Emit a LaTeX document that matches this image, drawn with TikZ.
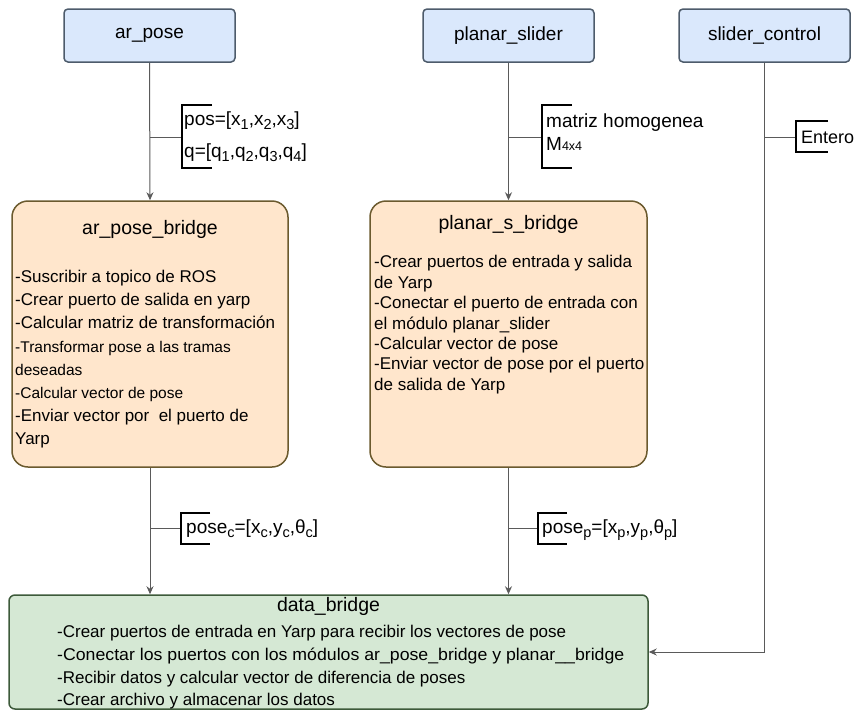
\documentclass[tikz,border=0pt]{standalone}
\usepackage{fontspec}
\setmainfont{Liberation Sans}
\usetikzlibrary{arrows.meta}

\definecolor{modFill}{HTML}{DAE8FC}
\definecolor{modLine}{HTML}{4D5B6B}
\definecolor{brFill}{HTML}{FFE6CC}
\definecolor{brLine}{HTML}{6B5A2E}
\definecolor{dbFill}{HTML}{D5E8D4}
\definecolor{dbLine}{HTML}{3D5A3A}
\definecolor{wire}{HTML}{5A5A5A}

% lowered index in the message labels
\newcommand\lowidx[1]{\raisebox{-0.25em}{\fontsize{14.5}{14.5}\selectfont #1}}

\tikzset{
  topbox/.style={draw=modLine, fill=modFill, line width=1.5pt, rounded corners=4pt,
    minimum width=171pt, minimum height=53pt, inner sep=0pt,
    font=\fontsize{19}{22}\selectfont},
  bridgebox/.style={draw=brLine, fill=brFill, line width=1.5pt, rounded corners=16pt,
    minimum height=266pt, inner sep=0pt},
  databox/.style={draw=dbLine, fill=dbFill, line width=1.5pt, rounded corners=6pt,
    minimum width=639pt, minimum height=114pt, inner sep=0pt},
  title/.style={inner sep=0pt, anchor=base, font=\fontsize{19.5}{22}\selectfont},
  body/.style={inner sep=0pt, anchor=base west, font=\fontsize{17}{20}\selectfont},
  bodysm/.style={inner sep=0pt, anchor=base west, font=\fontsize{15.5}{18}\selectfont},
  msg/.style={inner sep=0pt, anchor=base west, font=\fontsize{19}{22}\selectfont},
  flow/.style={draw=wire, line width=1pt, -{Stealth[length=8pt,width=7pt]}},
  wireln/.style={draw=wire, line width=1pt},
  brace/.style={draw=black, line width=1.5pt},
}

\begin{document}
\begin{tikzpicture}[x=1pt,y=-1pt]
\useasboundingbox (0,0) rectangle (857,713);

% source modules
\node[topbox] (ap) at (149.5,35.5) {ar\_pose};
\node[topbox] (ps) at (508.5,35.5) {planar\_slider};
\node[topbox] (sc) at (764.5,35.5) {slider\_control};

% bridge modules
\node[bridgebox, minimum width=276pt] (apb) at (150,334) {};
\node[bridgebox, minimum width=277pt] (psb) at (508.5,334) {};
\node[databox] (db) at (328.5,652) {};

% ar_pose_bridge contents
\node[title] (apbT) at (150,234) {ar\_pose\_bridge};
\node[body]   (apb1) at (15,282) {-Suscribir a topico de ROS};
\node[body]   (apb2) at (15,305) {-Crear puerto de salida en yarp};
\node[body]   (apb3) at (15,328) {-Calcular matriz de transformación};
\node[bodysm] (apb4) at (15,352) {-Transformar pose a las tramas};
\node[bodysm] (apb5) at (15,375) {deseadas};
\node[bodysm] (apb6) at (15,398) {-Calcular vector de pose};
\node[body]   (apb7) at (15,421) {-Enviar vector por~~el puerto de};
\node[body]   (apb8) at (15,444) {Yarp};

% planar_s_bridge contents
\node[title] (psbT) at (508.5,229) {planar\_s\_bridge};
\node[body] (psb1) at (374,267.5) {-Crear puertos de entrada y salida};
\node[body] (psb2) at (374,288) {de Yarp};
\node[body] (psb3) at (374,308.5) {-Conectar el puerto de entrada con};
\node[body] (psb4) at (374,329) {el módulo planar\_slider};
\node[body] (psb5) at (374,349) {-Calcular vector de pose};
\node[body] (psb6) at (374,369.5) {-Enviar vector de pose por el puerto};
\node[body] (psb7) at (374,390) {de salida de Yarp};

% data_bridge contents
\node[title] (dbT) at (328.5,611) {data\_bridge};
\node[body] (db1) at (57,637) {-Crear puertos de entrada en Yarp para recibir los vectores de pose};
\node[body] (db2) at (57,660) {\scalebox{1.042}[1]{-Conectar los puertos con los módulos ar\_pose\_bridge y planar\_\_bridge}};
\node[body] (db3) at (57,683) {-Recibir datos y calcular vector de diferencia de poses};
\node[body] (db4) at (57,705) {-Crear archivo y almacenar los datos};

% data flow
\draw[flow] (ap.south) -- (apb.north);
\draw[flow] (ps.south) -- (psb.north);
\draw[flow] (apb.south) -- (apb.south |- db.north);
\draw[flow] (psb.south) -- (psb.south |- db.north);
\draw[flow] (sc.south) |- (db.east);

% message labels with their brackets
\coordinate (m1) at (150,137);
\coordinate (m1b) at (182,137);
\draw[wireln] (m1) -- (m1b);
\draw[brace] (212,105) -- (182,105) -- (182,168) -- (212,168);
\node[msg] (m1t1) at (184,125) {pos=[x\lowidx{1},x\lowidx{2},x\lowidx{3}]};
\node[msg] (m1t2) at (184,157) {q=[q\lowidx{1},q\lowidx{2},q\lowidx{3},q\lowidx{4}]};

\coordinate (m2) at (508.5,137);
\coordinate (m2b) at (542,137);
\draw[wireln] (m2) -- (m2b);
\draw[brace] (572,105) -- (542,105) -- (542,168) -- (572,168);
\node[msg] (m2t1) at (546,127.5) {matriz homogenea};
\node[msg] (m2t2) at (546,150) {M{\fontsize{12.5}{12.5}\selectfont 4x4}};

\coordinate (m3) at (764.5,137);
\coordinate (m3b) at (796,137);
\draw[wireln] (m3) -- (m3b);
\draw[brace] (828,121) -- (796,121) -- (796,152) -- (828,152);
\node[msg, font=\fontsize{18}{21}\selectfont] (m3t) at (801,143) {Entero};

\coordinate (m4) at (150,528);
\coordinate (m4b) at (181,528);
\draw[wireln] (m4) -- (m4b);
\draw[brace] (210,513) -- (181,513) -- (181,544) -- (210,544);
\node[msg] (m4t) at (186,533) {pose\lowidx{c}=[x\lowidx{c},y\lowidx{c},θ\lowidx{c}]};

\coordinate (m5) at (508.5,528);
\coordinate (m5b) at (538,528);
\draw[wireln] (m5) -- (m5b);
\draw[brace] (567,513) -- (538,513) -- (538,544) -- (567,544);
\node[msg] (m5t) at (542,533) {pose\lowidx{p}=[x\lowidx{p},y\lowidx{p},θ\lowidx{p}]};
\end{tikzpicture}
\end{document}
